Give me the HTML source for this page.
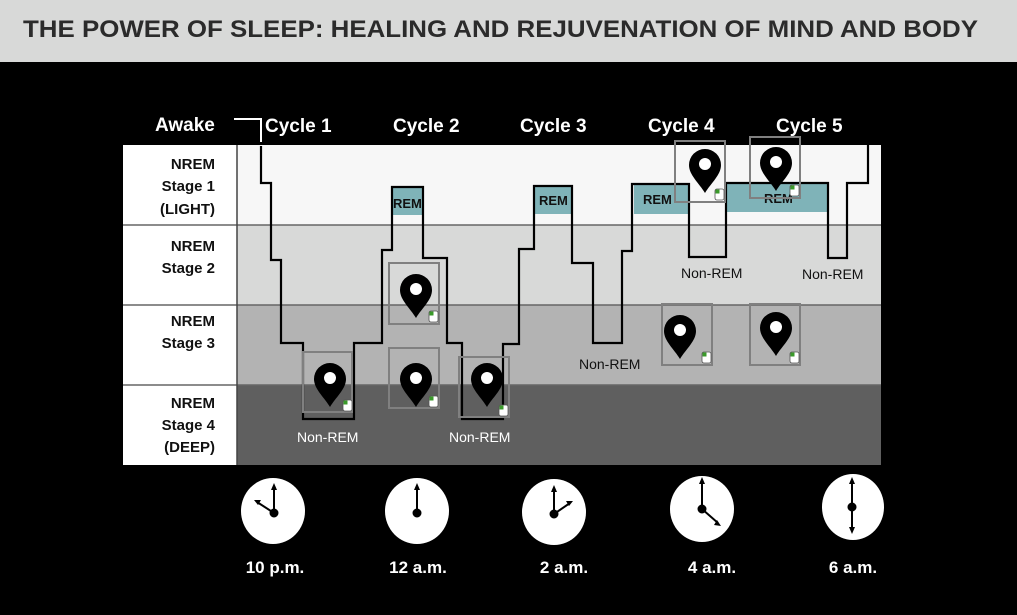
<!DOCTYPE html>
<html><head><meta charset="utf-8"><style>
html,body{margin:0;padding:0;background:#000;width:1017px;height:615px;overflow:hidden}
svg{display:block}
text{font-family:"Liberation Sans",sans-serif}
</style></head><body>
<svg width="1017" height="615" viewBox="0 0 1017 615" xmlns="http://www.w3.org/2000/svg">
<defs>
<g id="pin">
<path d="M0,22 C-6,12 -16,4 -16,-6 A16,16 0 1 1 16,-6 C16,4 6,12 0,22 Z" fill="#000"/>
<circle cx="0" cy="-7" r="6" fill="#fff"/>
</g>
<g id="mouse">
<rect x="0" y="0" width="9" height="11" rx="2" fill="#fff" stroke="#555" stroke-width="0.8"/>
<rect x="0.5" y="0.5" width="4" height="4" fill="#3a9a2a"/>
</g>
</defs>
<rect x="0" y="0" width="1017" height="62" fill="#d8d9d8"/>
<text x="23" y="37" font-size="24" font-weight="bold" fill="#2b2b2b" textLength="955" lengthAdjust="spacingAndGlyphs">THE POWER OF SLEEP:  HEALING AND REJUVENATION OF MIND AND BODY</text>

<!-- label column -->
<rect x="123" y="145" width="114" height="320" fill="#fff"/>
<!-- bands -->
<rect x="237" y="145" width="644" height="80" fill="#f7f7f7"/>
<rect x="237" y="225" width="644" height="80" fill="#d8d9d8"/>
<rect x="237" y="305" width="644" height="80" fill="#b3b3b3"/>
<rect x="237" y="385" width="644" height="80" fill="#5f5f5f"/>
<g stroke="#666" stroke-width="1.5">
<line x1="123" y1="225" x2="881" y2="225"/>
<line x1="123" y1="305" x2="881" y2="305"/>
<line x1="123" y1="385" x2="881" y2="385"/>
<line x1="237" y1="145" x2="237" y2="465" stroke="#444"/>
</g>
<g font-size="15" font-weight="bold" fill="#111" text-anchor="end">
<text x="215" y="169">NREM</text><text x="215" y="191">Stage 1</text><text x="215" y="214">(LIGHT)</text>
<text x="215" y="251">NREM</text><text x="215" y="273">Stage 2</text>
<text x="215" y="326">NREM</text><text x="215" y="348">Stage 3</text>
<text x="215" y="408">NREM</text><text x="215" y="430">Stage 4</text><text x="215" y="452">(DEEP)</text>
</g>
<g font-size="19" font-weight="bold" fill="#fff">
<text x="155" y="131">Awake</text>
<text x="265" y="132">Cycle 1</text>
<text x="393" y="132">Cycle 2</text>
<text x="520" y="132">Cycle 3</text>
<text x="648" y="132">Cycle 4</text>
<text x="776" y="132">Cycle 5</text>
</g>
<path d="M234,119 H261 V142" fill="none" stroke="#fff" stroke-width="2"/>

<!-- REM fills -->
<g fill="#7fb3b8">
<rect x="393" y="187" width="29" height="28"/>
<rect x="535" y="186" width="37" height="28"/>
<rect x="634" y="184" width="55" height="30"/>
<rect x="727" y="184" width="100" height="28"/>
</g>
<g font-size="13" font-weight="bold" fill="#111">
<text x="393" y="208">REM</text>
<text x="539" y="205">REM</text>
<text x="643" y="204">REM</text>
<text x="764" y="203">REM</text>
</g>

<path d="M261,146 V183 H271 V260 H281 V343 H303 V419 H354 V343 H382 V250 H392 V187 H423 V258 H447 V343 H462 V419 H503 V344 H519 V249 H534 V186 H572 V263 H593 V343 H622 V251 H632 V184 H689 V257 H726 V183 H828 V258 H847 V183 H868 V145"
 fill="none" stroke="#000" stroke-width="2.2"/>

<g font-size="14" fill="#111">
<text x="579" y="369">Non-REM</text>
<text x="681" y="278">Non-REM</text>
<text x="802" y="279">Non-REM</text>
</g>
<g font-size="14" fill="#fff">
<text x="297" y="442">Non-REM</text>
<text x="449" y="442">Non-REM</text>
</g>

<!-- pin boxes -->
<g fill="none" stroke="#808080" stroke-width="2">
<rect x="303" y="352" width="49" height="60"/>
<rect x="389" y="263" width="50" height="61"/>
<rect x="389" y="348" width="50" height="60"/>
<rect x="459" y="357" width="50" height="60"/>
<rect x="675" y="141" width="50" height="61"/>
<rect x="750" y="137" width="50" height="61"/>
<rect x="662" y="304" width="50" height="61"/>
<rect x="750" y="304" width="50" height="61"/>
</g>
<use href="#pin" x="330" y="385"/><use href="#mouse" x="343" y="400"/>
<use href="#pin" x="416" y="296"/><use href="#mouse" x="429" y="311"/>
<use href="#pin" x="416" y="385"/><use href="#mouse" x="429" y="396"/>
<use href="#pin" x="487" y="385"/><use href="#mouse" x="499" y="405"/>
<use href="#pin" x="705" y="171"/><use href="#mouse" x="715" y="189"/>
<use href="#pin" x="776" y="169"/><use href="#mouse" x="790" y="185"/>
<use href="#pin" x="680" y="337"/><use href="#mouse" x="702" y="352"/>
<use href="#pin" x="776" y="334"/><use href="#mouse" x="790" y="352"/>

<!-- clocks -->
<g fill="#fff">
<ellipse cx="273" cy="511" rx="32" ry="33"/>
<ellipse cx="417" cy="511" rx="32" ry="33"/>
<ellipse cx="554" cy="512" rx="32" ry="33"/>
<ellipse cx="702" cy="509" rx="32" ry="33"/>
<ellipse cx="853" cy="507" rx="31" ry="33"/>
</g>
<g stroke="#000" stroke-width="2" fill="#000">
<circle cx="274" cy="513" r="3.5"/><line x1="274" y1="513" x2="274" y2="487"/><line x1="274" y1="513" x2="257" y2="502"/>
<circle cx="417" cy="513" r="3.5"/><line x1="417" y1="513" x2="417" y2="487"/>
<circle cx="554" cy="514" r="3.5"/><line x1="554" y1="514" x2="554" y2="489"/><line x1="554" y1="514" x2="570" y2="503"/>
<circle cx="702" cy="509" r="3.5"/><line x1="702" y1="509" x2="702" y2="481"/><line x1="702" y1="509" x2="718" y2="523"/>
<circle cx="852" cy="507" r="3.5"/><line x1="852" y1="507" x2="852" y2="481"/><line x1="852" y1="507" x2="852" y2="530"/>
</g>
<g fill="#000">
<path d="M274,483 l-3,7 h6z"/><path d="M254,500 l7,0 l-3,5z"/>
<path d="M417,483 l-3,7 h6z"/>
<path d="M554,485 l-3,7 h6z"/><path d="M573,501 l-7,0 l3,5z"/>
<path d="M702,477 l-3,7 h6z"/><path d="M721,526 l-7,-1 l3,-5z"/>
<path d="M852,477 l-3,7 h6z"/><path d="M852,534 l-3,-7 h6z"/>
</g>
<g font-size="17" font-weight="bold" fill="#fff" text-anchor="middle">
<text x="275" y="573">10 p.m.</text>
<text x="418" y="573">12 a.m.</text>
<text x="564" y="573">2 a.m.</text>
<text x="712" y="573">4 a.m.</text>
<text x="853" y="573">6 a.m.</text>
</g>
</svg>
</body></html>
